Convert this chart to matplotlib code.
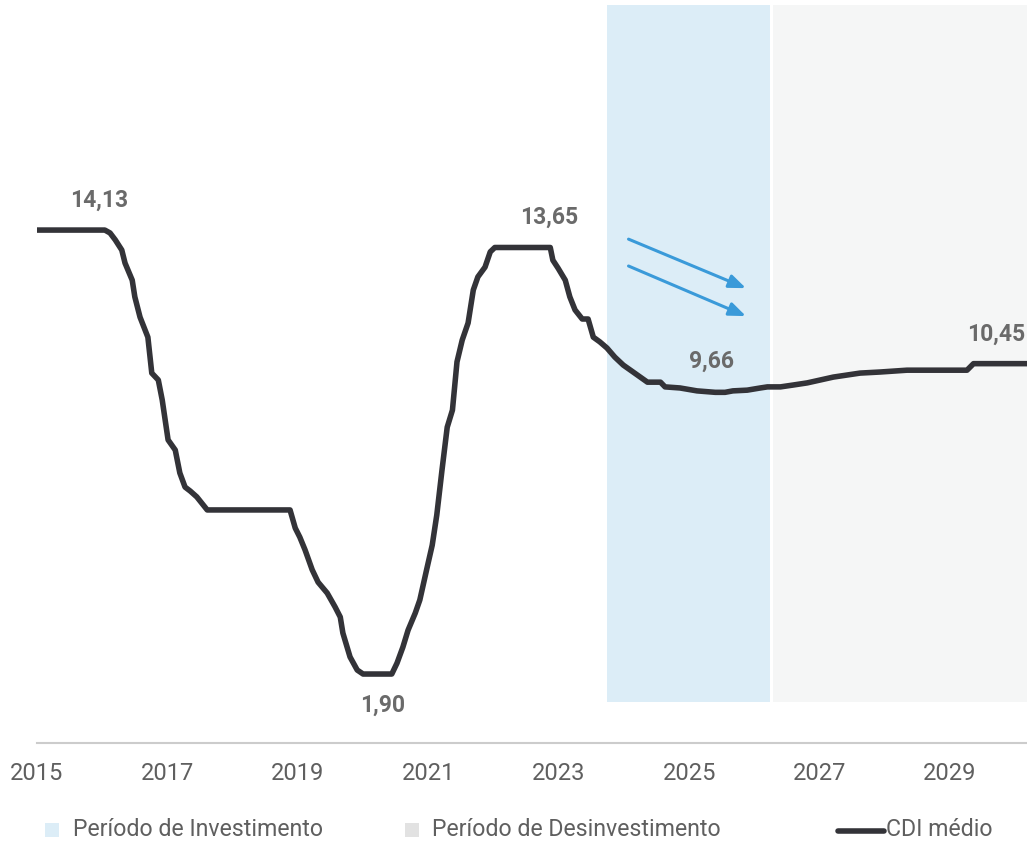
import matplotlib
matplotlib.use("Agg")
import matplotlib.pyplot as plt
from matplotlib.patches import Rectangle, FancyArrowPatch
from matplotlib.lines import Line2D

plt.rcParams["font.family"] = ["Roboto", "DejaVu Sans"]

# CDI médio (% a.a.) as (decimal year, value)
years = [2015.00, 2016.04, 2016.12, 2016.20, 2016.30, 2016.35, 2016.46, 2016.50, 2016.58,
         2016.70, 2016.76, 2016.86, 2016.92, 2017.01, 2017.12, 2017.19, 2017.27, 2017.35,
         2017.45, 2017.61, 2018.88, 2018.96, 2019.03, 2019.11, 2019.22, 2019.31, 2019.45,
         2019.57, 2019.65, 2019.69, 2019.80, 2019.91, 2020.00, 2020.44, 2020.52, 2020.61,
         2020.69, 2020.80, 2020.87, 2020.98, 2021.06, 2021.13, 2021.21, 2021.29, 2021.37,
         2021.44, 2021.52, 2021.61, 2021.69, 2021.76, 2021.87, 2021.95, 2022.02, 2022.87,
         2022.91, 2022.99, 2023.10, 2023.17, 2023.25, 2023.36, 2023.45, 2023.53, 2023.63,
         2023.74, 2023.86, 2023.99, 2024.14, 2024.36, 2024.56, 2024.63, 2024.86, 2025.12,
         2025.40, 2025.55, 2025.67, 2025.89, 2026.09, 2026.20, 2026.40, 2026.59, 2026.81,
         2027.01, 2027.21, 2027.62, 2027.93, 2028.34, 2029.26, 2029.36, 2030.18]
cdi = [14.13, 14.13, 14.05, 13.86, 13.58, 13.22, 12.75, 12.29, 11.73,
       11.18, 10.19, 10.00, 9.45, 8.35, 8.07, 7.44, 7.05, 6.94,
       6.78, 6.42, 6.42, 5.92, 5.67, 5.32, 4.77, 4.43, 4.13,
       3.75, 3.47, 3.03, 2.37, 2.01, 1.90, 1.90, 2.20, 2.64,
       3.11, 3.58, 3.94, 4.82, 5.45, 6.28, 7.52, 8.70, 9.17,
       10.50, 11.10, 11.57, 12.48, 12.84, 13.11, 13.53, 13.65, 13.65,
       13.30, 13.08, 12.75, 12.29, 11.93, 11.68, 11.68, 11.18, 11.05,
       10.88, 10.63, 10.41, 10.22, 9.94, 9.94, 9.81, 9.78, 9.70,
       9.66, 9.66, 9.70, 9.72, 9.78, 9.81, 9.81, 9.86, 9.92,
       10.00, 10.08, 10.19, 10.22, 10.27, 10.27, 10.45, 10.45]

# annotated points: (year, value, text)
ann_years = [2015.95, 2022.85, 2025.35, 2020.3, 2029.70]
ann_values = [14.13, 13.65, 9.66, 1.90, 10.45]
ann_texts = ["14,13", "13,65", "9,66", "1,90", "10,45"]

tick_years = [2015, 2017, 2019, 2021, 2023, 2025, 2027, 2029]

invest_period = (2023.74, 2026.24)
divest_period = (2026.29, 2030.18)

LINE = "#333338"
BLUE = "#dcedf7"
GREY = "#f5f6f6"
TXT = "#5f5f5f"

fig = plt.figure(figsize=(10.27, 8.42), dpi=100)
ax = fig.add_axes([37 / 1027, 99 / 842, 990 / 1027, 738 / 842])
ax.set_xlim(2015.0, 2030.18)
ax.set_ylim(0, 20.33)

ax.axvspan(*invest_period, ymin=1.13 / 20.33, ymax=1, color=BLUE, lw=0, zorder=0)
ax.axvspan(*divest_period, ymin=1.13 / 20.33, ymax=1, color=GREY, lw=0, zorder=0)

ax.plot(years, cdi, color=LINE, lw=4, solid_joinstyle="round", zorder=3)

offsets = [(0, 30), (0, 30), (0, 31), (0, -31), (0, 29)]
for x, y, t, (dx, dy) in zip(ann_years, ann_values, ann_texts, offsets):
    ax.annotate(t, (x, y), xytext=(dx, dy), textcoords="offset pixels",
                ha="center", va="center", fontsize=16.5, fontweight="bold", color="#6a6a6a")

# two falling arrows
for y0, y1 in [(13.88, 12.53), (13.14, 11.76)]:
    ax.add_patch(FancyArrowPatch((2024.07, y0), (2025.87, y1),
                                 arrowstyle="-|>,head_length=10,head_width=4",
                                 color="#3a9ad9", lw=2.2, mutation_scale=1, shrinkA=0, shrinkB=0, zorder=4))

for s in ["top", "left", "right"]:
    ax.spines[s].set_visible(False)
ax.spines["bottom"].set_color("#cccccc")
ax.spines["bottom"].set_linewidth(1.5)
ax.set_yticks([])
ax.set_xticks(tick_years)
ax.set_xticklabels([str(y) for y in tick_years])
ax.tick_params(axis="x", length=0, pad=14, labelsize=17, labelcolor=TXT)

# legend drawn by hand
fig.patches.append(Rectangle((45 / 1027, 1 - 837 / 842), 14 / 1027, 14 / 842,
                             transform=fig.transFigure, color=BLUE, lw=0))
fig.text(73 / 1027, 1 - 830 / 842, "Período de Investimento", ha="left", va="center",
         fontsize=16.7, color=TXT)
fig.patches.append(Rectangle((405 / 1027, 1 - 837 / 842), 14 / 1027, 14 / 842,
                             transform=fig.transFigure, color="#e2e2e2", lw=0))
fig.text(432 / 1027, 1 - 830 / 842, "Período de Desinvestimento", ha="left", va="center",
         fontsize=16.7, color=TXT)
fig.lines.append(Line2D([838 / 1027, 884 / 1027], [1 - 831 / 842, 1 - 831 / 842],
                        transform=fig.transFigure, color=LINE, lw=4, solid_capstyle="round"))
fig.text(886 / 1027, 1 - 830 / 842, "CDI médio", ha="left", va="center",
         fontsize=16.7, color=TXT)

fig.savefig("out.png", dpi=100)
